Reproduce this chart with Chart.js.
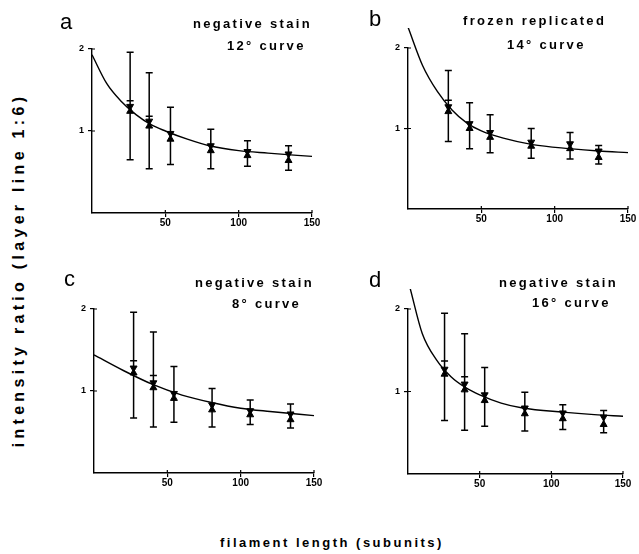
<!DOCTYPE html>
<html>
<head>
<meta charset="utf-8">
<script src="https://cdn.jsdelivr.net/npm/chart.js@4.4.0/dist/chart.umd.min.js"></script>
<style>
    body { margin: 0; background: #fff; width: 639px; height: 554px; position: relative; overflow: hidden;
           font-family: "Liberation Sans", Arial, sans-serif; color: #000; }
    .panel { position: absolute; }
    .txt { position: absolute; white-space: nowrap; line-height: 1; }
    .letter { font-size: 22px; }
    .title { font-size: 13px; font-weight: bold; letter-spacing: 2.3px; }
    .axis-title { font-size: 13px; font-weight: bold; letter-spacing: 2.5px; }
    .y-title { font-size: 16px; font-weight: bold; letter-spacing: 4.3px;
               left: 19px; top: 270px; transform: translate(-50%, -50%) rotate(-90deg); }
</style>
</head>
<body>

<div class="panel" id="boxA"><canvas id="chartA"></canvas></div>
<div class="panel" id="boxB"><canvas id="chartB"></canvas></div>
<div class="panel" id="boxC"><canvas id="chartC"></canvas></div>
<div class="panel" id="boxD"><canvas id="chartD"></canvas></div>

<div class="txt letter" style="left:60px;top:11px">a</div>
<div class="txt title" style="left:193px;top:17px">negative stain</div>
<div class="txt title" style="left:227px;top:39px">12° curve</div>

<div class="txt letter" style="left:369px;top:8px">b</div>
<div class="txt title" style="left:463px;top:14px">frozen replicated</div>
<div class="txt title" style="left:507px;top:38px">14° curve</div>

<div class="txt letter" style="left:64px;top:268px">c</div>
<div class="txt title" style="left:195px;top:276px">negative stain</div>
<div class="txt title" style="left:232px;top:297px">8° curve</div>

<div class="txt letter" style="left:369px;top:269px">d</div>
<div class="txt title" style="left:499px;top:276px">negative stain</div>
<div class="txt title" style="left:532px;top:296px">16° curve</div>

<div class="txt y-title">intensity ratio (layer line 1:6)</div>
<div class="txt axis-title" style="left:220px;top:536px">filament length (subunits)</div>

<script>
// axis ticks (0 is not labelled)
const xTicks = [50, 100, 150];
const yTicks = [1, 2];

// a: negative stain, 12 deg curve
const lenA = [26, 39, 53.5, 81, 106, 134];
const upperA = [1.30, 1.12, 0.97, 0.82, 0.75, 0.72];
const lowerA = [1.24, 1.06, 0.90, 0.76, 0.70, 0.64];
const errLoA = [0.65, 0.54, 0.59, 0.54, 0.57, 0.52];
const errHiA = [1.96, 1.71, 1.29, 1.02, 0.88, 0.82];
const capA = [1.37, 1.18, null, null, null, null];
const curveXA = [0, 10, 20, 30, 40, 50, 65, 80, 100, 120, 150];
const curveYA = [1.93, 1.58, 1.36, 1.20, 1.08, 1.00, 0.90, 0.82, 0.76, 0.73, 0.69];

// b: frozen replicated, 14 deg curve
const lenB = [27.5, 42, 56, 84, 110.5, 130];
const upperB = [1.27, 1.06, 0.95, 0.83, 0.81, 0.72];
const lowerB = [1.21, 1.00, 0.89, 0.78, 0.75, 0.64];
const errLoB = [0.84, 0.75, 0.70, 0.63, 0.62, 0.56];
const errHiB = [1.72, 1.32, 1.17, 1.00, 0.95, 0.79];
const capB = [1.35, null, null, null, null, null];
const curveXB = [0, 10, 20, 30, 40, 50, 65, 85, 110, 130, 150];
const curveYB = [2.26, 1.78, 1.46, 1.23, 1.07, 0.97, 0.88, 0.80, 0.75, 0.72, 0.70];

// c: negative stain, 8 deg curve
const lenC = [27, 40.5, 54.5, 80.5, 106.5, 134];
const upperC = [1.28, 1.10, 0.97, 0.83, 0.76, 0.72];
const lowerC = [1.22, 1.04, 0.91, 0.77, 0.71, 0.65];
const errLoC = [0.67, 0.56, 0.62, 0.56, 0.59, 0.55];
const errHiC = [1.96, 1.72, 1.30, 1.03, 0.89, 0.84];
const capC = [1.37, 1.19, null, null, null, null];
const curveXC = [0, 20, 40, 60, 80, 100, 120, 150];
const curveYC = [1.44, 1.25, 1.08, 0.95, 0.86, 0.79, 0.75, 0.70];

// d: negative stain, 16 deg curve
const lenD = [25.5, 39.5, 53.5, 81.5, 108, 136.5];
const upperD = [1.27, 1.09, 0.96, 0.80, 0.74, 0.69];
const lowerD = [1.21, 1.02, 0.89, 0.73, 0.67, 0.60];
const errLoD = [0.65, 0.53, 0.58, 0.52, 0.54, 0.50];
const errHiD = [1.95, 1.70, 1.29, 0.99, 0.84, 0.77];
const capD = [1.37, 1.18, null, null, null, null];
const curveXD = [1.5, 10, 20, 30, 40, 50, 65, 80, 108, 130, 150];
const curveYD = [2.25, 1.70, 1.38, 1.18, 1.05, 0.96, 0.86, 0.80, 0.75, 0.72, 0.70];

const Y_W = 24;   // fixed width of the y axis block
const X_H = 20;   // fixed height of the x axis block

// vertical error bars with caps, drawn through the chart scales
const errorBars = {
    id: 'errorBars',
    beforeDatasetsDraw(chart, args, opts) {
        const ctx = chart.ctx;
        const x = chart.scales.x, y = chart.scales.y;
        ctx.save();
        ctx.strokeStyle = '#000';
        ctx.lineWidth = 1.5;
        opts.len.forEach((v, i) => {
            const px = x.getPixelForValue(v);
            const top = y.getPixelForValue(opts.hi[i]);
            const bot = y.getPixelForValue(opts.lo[i]);
            ctx.beginPath();
            ctx.moveTo(px, top); ctx.lineTo(px, bot);
            ctx.moveTo(px - 3.5, top); ctx.lineTo(px + 3.5, top);
            ctx.moveTo(px - 3.5, bot); ctx.lineTo(px + 3.5, bot);
            if (opts.cap[i] != null) {
                const c = y.getPixelForValue(opts.cap[i]);
                ctx.moveTo(px - 3.5, c); ctx.lineTo(px + 3.5, c);
            }
            ctx.stroke();
        });
        ctx.restore();
    }
};

// the tick marks cross the axis line: add the inner half
const innerTicks = {
    id: 'innerTicks',
    afterDraw(chart) {
        const ctx = chart.ctx;
        const x = chart.scales.x, y = chart.scales.y;
        const area = chart.chartArea;
        ctx.save();
        ctx.strokeStyle = '#000';
        ctx.lineWidth = 1.2;
        ctx.beginPath();
        x.ticks.forEach(t => {
            const px = x.getPixelForValue(t.value);
            ctx.moveTo(px, area.bottom); ctx.lineTo(px, area.bottom - 3);
        });
        y.ticks.forEach(t => {
            const py = y.getPixelForValue(t.value);
            ctx.moveTo(area.left, py); ctx.lineTo(area.left + 3, py);
        });
        ctx.stroke();
        ctx.restore();
    }
};

function pairs(xs, ys) {
    return xs.map((v, i) => ({ x: v, y: ys[i] }));
}

function makePanel(id, boxId, area, len, upper, lower, lo, hi, cap, cx, cy) {
    const box = document.getElementById(boxId);
    box.style.left = (area.left - 40) + 'px';
    box.style.top = (area.top - 20) + 'px';
    box.style.width = (area.right - area.left + 70) + 'px';
    box.style.height = (area.bottom - area.top + 50) + 'px';

    return new Chart(document.getElementById(id), {
        type: 'line',
        data: {
            datasets: [{
                data: pairs(cx, cy),
                borderColor: '#000',
                borderWidth: 1.4,
                pointRadius: 0,
                tension: 0.4,
                cubicInterpolationMode: 'monotone',
                clip: false
            }, {
                data: pairs(len, upper),
                showLine: false,
                pointStyle: 'triangle',
                rotation: 180,
                pointRadius: 4,
                pointBackgroundColor: '#000',
                pointBorderColor: '#000',
                pointBorderWidth: 1
            }, {
                data: pairs(len, lower),
                showLine: false,
                pointStyle: 'triangle',
                pointRadius: 4,
                pointBackgroundColor: '#000',
                pointBorderColor: '#000',
                pointBorderWidth: 1
            }]
        },
        options: {
            responsive: true,
            maintainAspectRatio: false,
            animation: false,
            events: [],
            layout: {
                padding: { left: 40 - Y_W, top: 20, right: 30, bottom: 30 - X_H }
            },
            plugins: {
                legend: { display: false },
                tooltip: { enabled: false },
                errorBars: { len: len, lo: lo, hi: hi, cap: cap }
            },
            scales: {
                x: {
                    type: 'linear',
                    min: 0,
                    max: 150,
                    afterFit: function(scale) { scale.height = X_H; },
                    afterBuildTicks: function(scale) {
                        scale.ticks = xTicks.map(v => ({ value: v }));
                    },
                    border: { display: true, color: '#000', width: 1.4 },
                    grid: { display: true, drawOnChartArea: false, drawTicks: true, tickLength: 4, color: '#000', lineWidth: 1.2 },
                    ticks: { color: '#000', padding: 0, maxRotation: 0, font: { family: 'Liberation Sans', size: 10, weight: 'bold' } }
                },
                y: {
                    min: 0,
                    max: 2,
                    afterFit: function(scale) { scale.width = Y_W; },
                    afterBuildTicks: function(scale) {
                        scale.ticks = yTicks.map(v => ({ value: v }));
                    },
                    border: { display: true, color: '#000', width: 1.4 },
                    grid: { display: true, drawOnChartArea: false, drawTicks: true, tickLength: 4, color: '#000', lineWidth: 1.2 },
                    ticks: { color: '#000', padding: 4, font: { family: 'Liberation Sans', size: 9, weight: 'bold' } }
                }
            }
        },
        plugins: [errorBars, innerTicks]
    });
}

makePanel('chartA', 'boxA', { left: 92, top: 49, right: 312, bottom: 213 },
    lenA, upperA, lowerA, errLoA, errHiA, capA, curveXA, curveYA);
makePanel('chartB', 'boxB', { left: 408, top: 48, right: 628, bottom: 209 },
    lenB, upperB, lowerB, errLoB, errHiB, capB, curveXB, curveYB);
makePanel('chartC', 'boxC', { left: 94, top: 309, right: 314, bottom: 473 },
    lenC, upperC, lowerC, errLoC, errHiC, capC, curveXC, curveYC);
makePanel('chartD', 'boxD', { left: 408, top: 309, right: 623, bottom: 474 },
    lenD, upperD, lowerD, errLoD, errHiD, capD, curveXD, curveYD);
</script>
</body>
</html>
